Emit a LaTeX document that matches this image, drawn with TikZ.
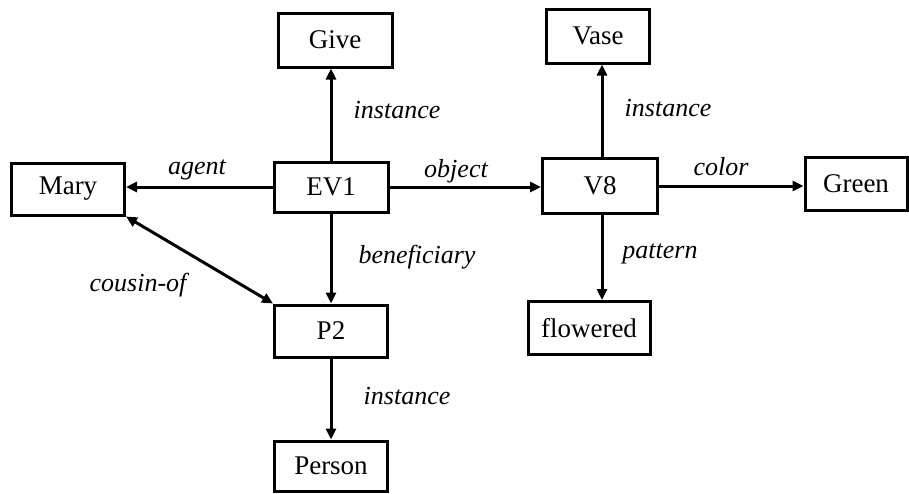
\documentclass[tikz,border=0pt]{standalone}
\usepackage{fontspec}
\setmainfont{Liberation Serif}
\usetikzlibrary{arrows.meta}
\begin{document}
\begin{tikzpicture}[x=1pt,y=-1pt,
  box/.style={draw, line width=3pt, rectangle, inner sep=0pt,
    font=\fontsize{27}{30}\selectfont},
  rel/.style={font=\fontsize{26}{30}\selectfont\itshape, inner sep=0pt},
  link/.style={line width=3pt, -{Triangle[length=11pt,width=10pt]}},
  twolink/.style={line width=3pt, {Triangle[length=11pt,width=10pt]}-{Triangle[length=11pt,width=10pt]}}]
  \useasboundingbox (0,0) rectangle (909,493);

  % concept boxes
  \node[box, minimum width=114pt, minimum height=54pt] (give) at (335,40) {Give};
  \node[box, minimum width=114pt, minimum height=50pt] (ev1) at (331,187) {EV1};
  \node[box, minimum width=113pt, minimum height=52pt] (mary) at (68,189) {Mary};
  \node[box, minimum width=113pt, minimum height=52pt] (p2) at (331,331) {P2};
  \node[box, minimum width=113pt, minimum height=50pt] (person) at (331,466) {Person};
  \node[box, minimum width=103pt, minimum height=54pt] (vase) at (598,36) {Vase};
  \node[box, minimum width=115pt, minimum height=55pt] (v8) at (600,186) {V8};
  \node[box, minimum width=102pt, minimum height=53pt] (green) at (856,184) {Green};
  \node[box, minimum width=122pt, minimum height=53pt] (flowered) at (589,328) {flowered};

  % relations
  \draw[link] (ev1.north) -- (ev1.north |- give.south);
  \draw[link] (ev1.west) -- (ev1.west -| mary.east);
  \draw[link] (ev1.east) -- (ev1.east -| v8.west);
  \draw[link] (ev1.south) -- (ev1.south |- p2.north);
  \draw[twolink] (mary.south east) -- (p2.north west);
  \draw[link] (p2.south) -- (p2.south |- person.north);
  \draw[link] ([xshift=2pt]v8.north) -- ([xshift=2pt]v8.north |- vase.south);
  \draw[link] (v8.east) -- (v8.east -| green.west);
  \draw[link] ([xshift=2pt]v8.south) -- ([xshift=2pt]v8.south |- flowered.north);

  % relation labels
  \node[rel] (l-inst1) at (397,110) {instance};
  \node[rel] (l-agent) at (197,170) {agent};
  \node[rel] (l-cousin) at (138,285) {cousin-of};
  \node[rel] (l-object) at (456,171) {object};
  \node[rel] (l-benef) at (417,257) {beneficiary};
  \node[rel] (l-inst2) at (668,108) {instance};
  \node[rel] (l-color) at (721,167) {color};
  \node[rel] (l-pattern) at (660,254) {pattern};
  \node[rel] (l-inst3) at (407,396) {instance};
\end{tikzpicture}
\end{document}
